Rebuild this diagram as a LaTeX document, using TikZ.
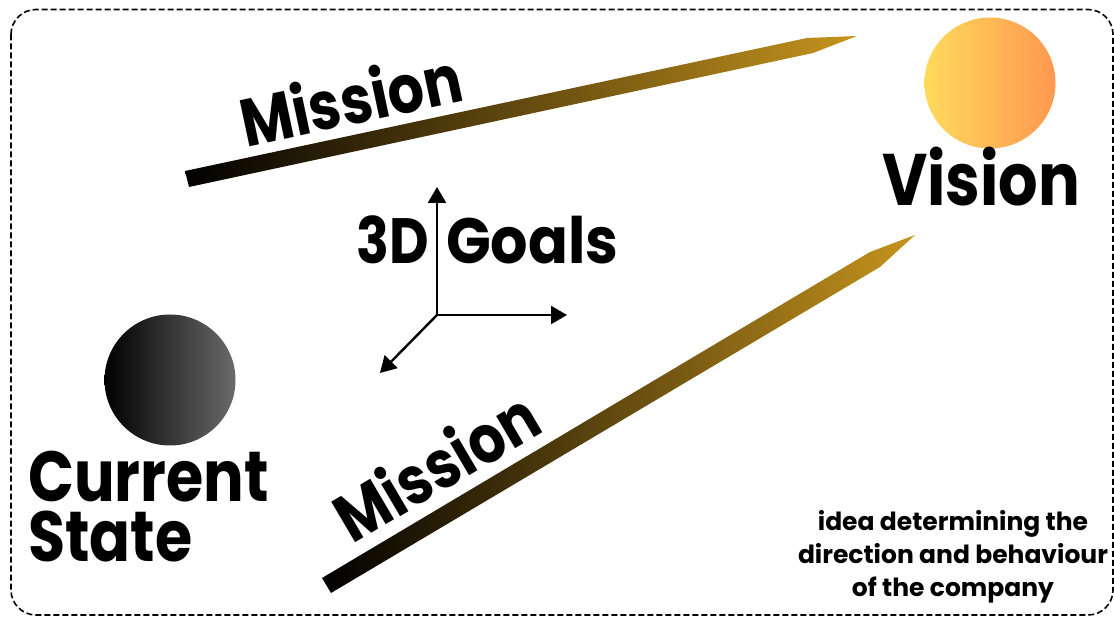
\documentclass[tikz,border=0pt]{standalone}
\usepackage{fontspec}
\setmainfont{Poppins}
\newfontfamily\narrowfont{Poppins}[FakeStretch=0.85]
\usetikzlibrary{arrows.meta}
\definecolor{gold}{RGB}{198,148,30}
\definecolor{sunA}{RGB}{255,218,92}
\definecolor{sunB}{RGB}{255,152,80}
\definecolor{stoneB}{RGB}{106,106,106}
\begin{document}
\begin{tikzpicture}[x=1pt, y=-1pt, big/.style={inner sep=0pt, font=\narrowfont\bfseries\fontsize{#1}{60}\selectfont},
			ball/.style={circle, inner sep=0pt, minimum size=131pt},
			axis/.style={line width=2.4pt, -{Triangle[length=16pt,width=18pt]}},
			spear/.style={left color=black, right color=gold}]
			
			\useasboundingbox (0,0) rectangle (1114,617);
			\draw[dash pattern=on 6pt off 3pt, line width=1.6pt, rounded corners=25pt] (11,9.5) rectangle (1113,615);
			
			% the two spears
			\shade[spear] (185,171) -- (807,38) -- (857,36) -- (813,53) -- (189,187) -- cycle;
			\shade[spear] (322,578) -- (870,252) -- (915,235) -- (880,267) -- (331,593) -- cycle;
			
			\node[ball, left color=sunA, right color=sunB] (sun) at (990,83) {};
			\node[ball, left color=black, right color=stoneB] (stone) at (170,380) {};
			
			\node[big=73, anchor=base] (vision) at (981,206) {Vision};
			\node[big=71, anchor=south west, align=left] (state) at (28,562) {Current\\State};
			
			\node[big=67, rotate=12, anchor=base] (m1) at (356,124) {Mission};
			\node[big=67, rotate=30.5, anchor=base] (m2) at (449,488) {Mission};
			
			% axes
			\coordinate (o) at (437,315);
			\coordinate (up) at (437,187);
			\coordinate (rt) at (567,315);
			\coordinate (dl) at (380,373);
			\draw[axis] (o) -- (up);
			\draw[axis] (o) -- (rt);
			\draw[axis] (o) -- (dl);
			
			\node[big=64, anchor=base east] (three) at (429,264) {3D};
			\node[big=64, anchor=base west, xscale=1.08] (goals) at (446,264) {Goals};
			
			\node[font=\bfseries\fontsize{25}{33}\selectfont, align=center, inner sep=0pt] (note) at (953,557) {idea determining the\\direction and behaviour\\of the company};
			
		\end{tikzpicture}
\end{document}
